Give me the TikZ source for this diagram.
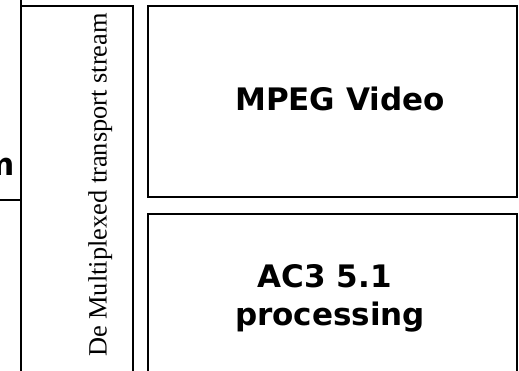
\documentclass[tikz,border=0pt]{standalone}
\usepackage{fontspec}
\setmainfont{Liberation Serif}
\newfontfamily\blockfont{DejaVu Sans}
\usepackage{tikz}

\begin{document}
\begin{tikzpicture}[x=1pt, y=1pt,
    block/.style={draw, line width=2pt, rectangle, inner sep=0pt},
    blocktext/.style={font=\blockfont\bfseries\fontsize{31}{38}\selectfont, align=center}]
            \useasboundingbox (0,0) rectangle (519,-371);
            \clip (0,0) rectangle (519,-371);

            % Nodes
            \node[block, minimum width=171pt, minimum height=230pt] (src) at (-64.5, -85) {};
            \node[blocktext, anchor=base east, inner sep=0pt] (srclabel) at (15.5, -176) {m};
            \node[block, minimum width=112pt, minimum height=384pt] (demux) at (77, -198) {};
            \node[rotate=90, anchor=base, inner sep=0pt, font=\fontsize{26.4}{30}\selectfont] (demuxlabel) at (106.5, -185) {De Multiplexed transport stream};
            \node[block, minimum width=369pt, minimum height=191pt] (video) at (332.5, -101.5) {};
            \node[blocktext, anchor=base, inner sep=0pt] (videolabel) at (340, -110.7) {MPEG Video};
            \node[block, minimum width=369pt, minimum height=168pt] (audio) at (332.5, -298) {};
            \node[blocktext] (audiolabel) at (330, -298.5) {AC3 5.1\hspace*{0.35em}\\processing};

        \end{tikzpicture}
\end{document}
